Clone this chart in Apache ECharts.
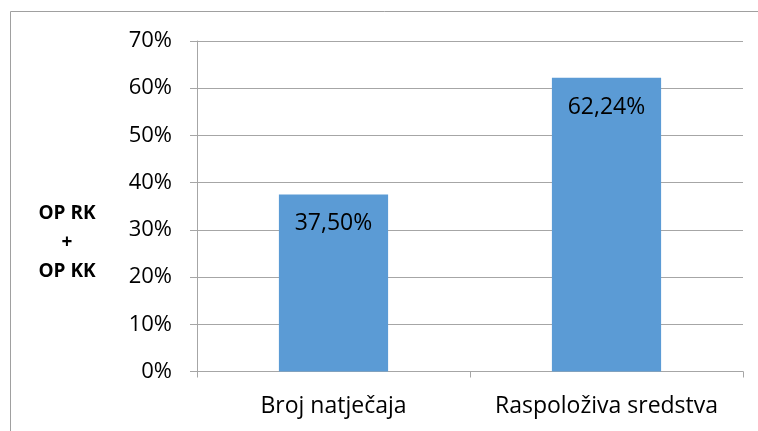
<!DOCTYPE html>
<html>
<head>
<meta charset="utf-8">
<script src="https://cdn.jsdelivr.net/npm/echarts@6/dist/echarts.min.js"></script>
<style>
html,body{margin:0;padding:0;background:#fff;}
#c{width:758px;height:431px;}
</style>
</head>
<body>
<div id="c"></div>
<script>
const categories = ['Broj natječaja', 'Raspoloživa sredstva'];
const values = [37.50, 62.24];
const yTitleLines = ['OP RK', '+', 'OP KK'];

const FONT = '"Open Sans", Lato, sans-serif';
const chart = echarts.init(document.getElementById('c'));
chart.setOption({
  animation: false,
  backgroundColor: '#fff',
  grid: { left: 197, right: 15, top: 41, bottom: 59.5 },
  graphic: [
    { type: 'rect', shape: { x: 10.5, y: 11.5, width: 900, height: 600 },
      style: { fill: 'none', stroke: '#a0a0a0', lineWidth: 1 }, silent: true },
    { type: 'text', left: 30, top: 199,
      style: { text: yTitleLines.join('\n'), font: 'bold 19px ' + FONT, fill: '#000',
               textAlign: 'center', lineHeight: 29, width: 74, align: 'center' } }
  ],
  xAxis: {
    type: 'category',
    data: categories,
    axisLine: { lineStyle: { color: '#a6a6a6', width: 1 } },
    axisTick: { show: true, length: 6, lineStyle: { color: '#a6a6a6' } },
    axisLabel: { color: '#000', fontSize: 23, fontFamily: FONT, margin: 23, interval: 0, hideOverlap: false }
  },
  yAxis: {
    type: 'value',
    min: 0, max: 70, interval: 10,
    axisLine: { show: true, lineStyle: { color: '#a6a6a6', width: 1 } },
    axisTick: { show: true, length: 7, lineStyle: { color: '#a6a6a6' } },
    splitLine: { show: true, lineStyle: { color: '#a6a6a6', width: 1 } },
    axisLabel: { color: '#000', fontSize: 22, fontFamily: FONT, margin: 25, formatter: '{value}%' }
  },
  series: [{
    type: 'bar',
    data: values,
    barWidth: '40%',
    itemStyle: { color: '#5B9BD5' },
    label: {
      show: true, position: 'insideTop', distance: 18,
      color: '#000', fontSize: 23, fontFamily: FONT,
      formatter: p => p.value.toFixed(2).replace('.', ',') + '%'
    }
  }]
});
</script>
</body>
</html>
